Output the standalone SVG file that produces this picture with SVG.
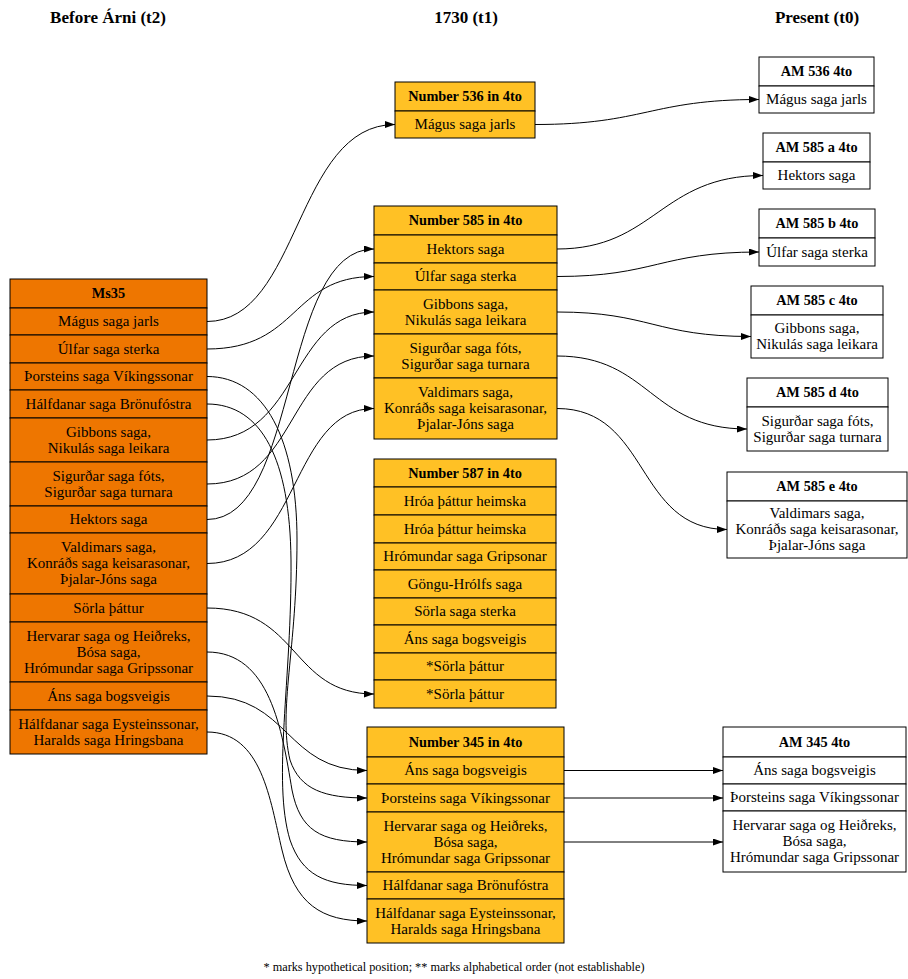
<svg xmlns="http://www.w3.org/2000/svg" width="908" height="979" viewBox="0 0 908 979">
  <style>
    text { font-family: "Liberation Serif", "Times New Roman", serif; font-size: 15px; fill: #000; text-anchor: middle; }
    .b { font-weight: bold; font-size: 14.3px; }
    .hdr { font-weight: bold; font-size: 17px; }
    .note { font-size: 11.5px; }
    .t2 rect { fill: #EE7600; stroke: #000; stroke-width: 1; }
    .t1 rect { fill: #FFC125; stroke: #000; stroke-width: 1; }
    .t0 rect { fill: #FFFFFF; stroke: #000; stroke-width: 1; }
    .edges path { fill: none; stroke: #000; stroke-width: 1; marker-end: url(#arr); }
  </style>
  <defs>
    <marker id="arr" markerUnits="userSpaceOnUse" markerWidth="10" markerHeight="7" refX="10" refY="3.5" orient="auto">
      <path d="M0,0 L10,3.5 L0,7 z" fill="#000"/>
    </marker>
  </defs>
  <rect width="908" height="979" fill="#fff"/>

  <!-- column headings -->
  <text class="hdr" x="108" y="23">Before Árni (t2)</text>
  <text class="hdr" x="466" y="23">1730 (t1)</text>
  <text class="hdr" x="817" y="23">Present (t0)</text>

  <!-- Ms35 -->
  <g id="ms35" class="t2">
    <rect x="10" y="279" width="197" height="29"/><text class="b" x="108.5" y="298">Ms35</text>
    <rect x="10" y="308" width="197" height="27"/><text x="108.5" y="326">Mágus saga jarls</text>
    <rect x="10" y="335" width="197" height="28"/><text x="108.5" y="354">Úlfar saga sterka</text>
    <rect x="10" y="363" width="197" height="27"/><text x="108.5" y="381">Þorsteins saga Víkingssonar</text>
    <rect x="10" y="390" width="197" height="28"/><text x="108.5" y="409">Hálfdanar saga Brönufóstra</text>
    <rect x="10" y="418" width="197" height="44"/><text x="108.5" y="437">Gibbons saga,</text><text x="108.5" y="453">Nikulás saga leikara</text>
    <rect x="10" y="462" width="197" height="44"/><text x="108.5" y="481">Sigurðar saga fóts,</text><text x="108.5" y="497">Sigurðar saga turnara</text>
    <rect x="10" y="506" width="197" height="27"/><text x="108.5" y="524">Hektors saga</text>
    <rect x="10" y="533" width="197" height="61"/><text x="108.5" y="552">Valdimars saga,</text><text x="108.5" y="568">Konráðs saga keisarasonar,</text><text x="108.5" y="584">Þjalar-Jóns saga</text>
    <rect x="10" y="594" width="197" height="28"/><text x="108.5" y="613">Sörla þáttur</text>
    <rect x="10" y="622" width="197" height="60"/><text x="108.5" y="641">Hervarar saga og Heiðreks,</text><text x="108.5" y="657">Bósa saga,</text><text x="108.5" y="673">Hrómundar saga Gripssonar</text>
    <rect x="10" y="682" width="197" height="28"/><text x="108.5" y="701">Áns saga bogsveigis</text>
    <rect x="10" y="710" width="197" height="44"/><text x="108.5" y="729">Hálfdanar saga Eysteinssonar,</text><text x="108.5" y="745">Haralds saga Hringsbana</text>
  </g>

  <!-- 1730 catalogue entries -->
  <g id="n536" class="t1">
    <rect x="395" y="82" width="140" height="29"/><text class="b" x="465" y="101">Number 536 in 4to</text>
    <rect x="395" y="111" width="140" height="27"/><text x="465" y="129">Mágus saga jarls</text>
  </g>
  <g id="n585" class="t1">
    <rect x="374" y="206" width="183" height="29"/><text class="b" x="465.5" y="225">Number 585 in 4to</text>
    <rect x="374" y="235" width="183" height="28"/><text x="465.5" y="254">Hektors saga</text>
    <rect x="374" y="263" width="183" height="27"/><text x="465.5" y="281">Úlfar saga sterka</text>
    <rect x="374" y="290" width="183" height="44"/><text x="465.5" y="309">Gibbons saga,</text><text x="465.5" y="325">Nikulás saga leikara</text>
    <rect x="374" y="334" width="183" height="44"/><text x="465.5" y="353">Sigurðar saga fóts,</text><text x="465.5" y="369">Sigurðar saga turnara</text>
    <rect x="374" y="378" width="183" height="61"/><text x="465.5" y="397">Valdimars saga,</text><text x="465.5" y="413">Konráðs saga keisarasonar,</text><text x="465.5" y="429">Þjalar-Jóns saga</text>
  </g>
  <g id="n587" class="t1">
    <rect x="374" y="459" width="182" height="28"/><text class="b" x="465" y="478">Number 587 in 4to</text>
    <rect x="374" y="487" width="182" height="28"/><text x="465" y="506">Hróa þáttur heimska</text>
    <rect x="374" y="515" width="182" height="28"/><text x="465" y="534">Hróa þáttur heimska</text>
    <rect x="374" y="543" width="182" height="27"/><text x="465" y="561">Hrómundar saga Gripsonar</text>
    <rect x="374" y="570" width="182" height="28"/><text x="465" y="589">Göngu-Hrólfs saga</text>
    <rect x="374" y="598" width="182" height="27"/><text x="465" y="616">Sörla saga sterka</text>
    <rect x="374" y="625" width="182" height="28"/><text x="465" y="644">Áns saga bogsveigis</text>
    <rect x="374" y="653" width="182" height="27"/><text x="465" y="671">*Sörla þáttur</text>
    <rect x="374" y="680" width="182" height="28"/><text x="465" y="699">*Sörla þáttur</text>
  </g>
  <g id="n345" class="t1">
    <rect x="367" y="727" width="197" height="30"/><text class="b" x="465.5" y="747">Number 345 in 4to</text>
    <rect x="367" y="757" width="197" height="27"/><text x="465.5" y="775">Áns saga bogsveigis</text>
    <rect x="367" y="784" width="197" height="28"/><text x="465.5" y="803">Þorsteins saga Víkingssonar</text>
    <rect x="367" y="812" width="197" height="60"/><text x="465.5" y="831">Hervarar saga og Heiðreks,</text><text x="465.5" y="847">Bósa saga,</text><text x="465.5" y="863">Hrómundar saga Gripssonar</text>
    <rect x="367" y="872" width="197" height="27"/><text x="465.5" y="890">Hálfdanar saga Brönufóstra</text>
    <rect x="367" y="899" width="197" height="44"/><text x="465.5" y="918">Hálfdanar saga Eysteinssonar,</text><text x="465.5" y="934">Haralds saga Hringsbana</text>
  </g>

  <!-- present-day shelfmarks -->
  <g id="am536" class="t0">
    <rect x="759" y="57" width="115" height="29"/><text class="b" x="816.5" y="76">AM 536 4to</text>
    <rect x="759" y="86" width="115" height="27"/><text x="816.5" y="104">Mágus saga jarls</text>
  </g>
  <g id="am585a" class="t0">
    <rect x="763" y="133" width="107" height="29"/><text class="b" x="816.5" y="152">AM 585 a 4to</text>
    <rect x="763" y="162" width="107" height="27"/><text x="816.5" y="180">Hektors saga</text>
  </g>
  <g id="am585b" class="t0">
    <rect x="759" y="209" width="116" height="29"/><text class="b" x="817" y="228">AM 585 b 4to</text>
    <rect x="759" y="238" width="116" height="28"/><text x="817" y="257">Úlfar saga sterka</text>
  </g>
  <g id="am585c" class="t0">
    <rect x="751" y="286" width="132" height="29"/><text class="b" x="817" y="305">AM 585 c 4to</text>
    <rect x="751" y="315" width="132" height="43"/><text x="817" y="333">Gibbons saga,</text><text x="817" y="349">Nikulás saga leikara</text>
  </g>
  <g id="am585d" class="t0">
    <rect x="747" y="378" width="141" height="29"/><text class="b" x="817.5" y="397">AM 585 d 4to</text>
    <rect x="747" y="407" width="141" height="44"/><text x="817.5" y="426">Sigurðar saga fóts,</text><text x="817.5" y="442">Sigurðar saga turnara</text>
  </g>
  <g id="am585e" class="t0">
    <rect x="727" y="472" width="180" height="29"/><text class="b" x="817" y="491">AM 585 e 4to</text>
    <rect x="727" y="501" width="180" height="57"/><text x="817" y="518">Valdimars saga,</text><text x="817" y="534">Konráðs saga keisarasonar,</text><text x="817" y="550">Þjalar-Jóns saga</text>
  </g>
  <g id="am345" class="t0">
    <rect x="723" y="727" width="183" height="30"/><text class="b" x="814.5" y="747">AM 345 4to</text>
    <rect x="723" y="757" width="183" height="27"/><text x="814.5" y="775">Áns saga bogsveigis</text>
    <rect x="723" y="784" width="183" height="27"/><text x="814.5" y="802">Þorsteins saga Víkingssonar</text>
    <rect x="723" y="811" width="183" height="61"/><text x="814.5" y="830">Hervarar saga og Heiðreks,</text><text x="814.5" y="846">Bósa saga,</text><text x="814.5" y="862">Hrómundar saga Gripssonar</text>
  </g>

  <!-- connectors -->
  <g id="edges" class="edges">
    <!-- Ms35 to 1730 -->
    <path d="M207,321.5 C300,321.5 295,124.5 395,124.5"/>
    <path d="M207,349 C300,349 290,276.5 374,276.5"/>
    <path d="M207,440 C300,440 290,312 374,312"/>
    <path d="M207,484 C300,484 285,356 374,356"/>
    <path d="M207,519.5 C300,519.5 280,249 374,249"/>
    <path d="M207,563.5 C300,563.5 290,408.5 374,408.5"/>
    <path d="M207,608 C300,608 290,694 374,694"/>
    <path d="M207,696 C290,696 285,770.5 367,770.5"/>
    <path d="M207,652 C270,652 282,730 292,790 C300,830 320,842 367,842"/>
    <path d="M207,376.5 C265,376.5 297,440 297,540 C297,650 278,710 290,760 C300,790 325,798 367,798"/>
    <path d="M207,404 C262,404 290,460 291,560 C292,680 272,780 290,840 C302,875 325,885.5 367,885.5"/>
    <path d="M207,732 C262,732 270,800 282,850 C295,905 322,921 367,921"/>
    <!-- 1730 to present -->
    <path d="M535,124.5 C645,124.5 650,99.5 759,99.5"/>
    <path d="M557,249 C655,249 660,175.5 763,175.5"/>
    <path d="M557,276.5 C655,276.5 660,252 759,252"/>
    <path d="M557,312 C650,312 655,336.5 751,336.5"/>
    <path d="M557,356 C650,356 650,429 747,429"/>
    <path d="M557,408.5 C650,408.5 635,529.5 727,529.5"/>
    <path d="M564,770.5 L723,770.5"/>
    <path d="M564,798 L723,798"/>
    <path d="M564,842 L723,842"/>
  </g>

  <text class="note" x="454" y="971" textLength="381" lengthAdjust="spacingAndGlyphs">* marks hypothetical position; ** marks alphabetical order (not establishable)</text>
</svg>
